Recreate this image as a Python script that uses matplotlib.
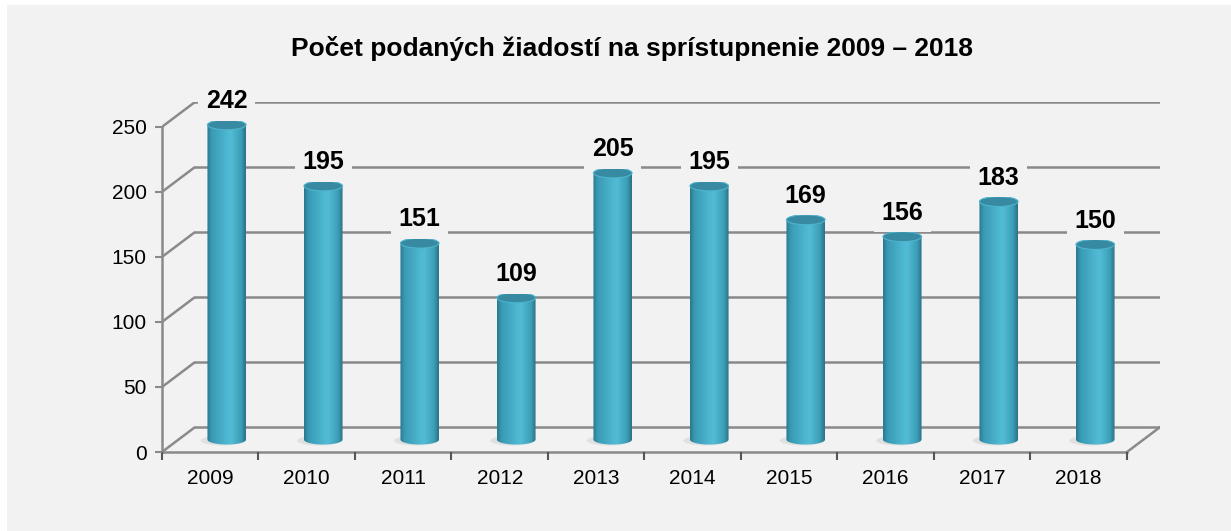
import numpy as np
import matplotlib.pyplot as plt
from matplotlib.patches import Ellipse, Rectangle, PathPatch
from matplotlib.colors import LinearSegmentedColormap
from matplotlib.path import Path

# data
years = ["2009", "2010", "2011", "2012", "2013", "2014", "2015", "2016", "2017", "2018"]
requests = [242, 195, 151, 109, 205, 195, 169, 156, 183, 150]
y_ticks = [0, 50, 100, 150, 200, 250]
title = "Počet podaných žiadostí na sprístupnenie 2009 – 2018"

plt.rcParams['font.family'] = ['Liberation Sans', 'DejaVu Sans']

bg = '#f2f2f2'
grid_col = '#8a8a8a'

fig = plt.figure(figsize=(12.31, 5.31), dpi=100)
fig.patch.set_facecolor('white')
fig.patches.append(Rectangle((7 / 1231, 0), 1, 526 / 531, transform=fig.transFigure,
                             facecolor=bg, edgecolor='none', zorder=-5))

# fake 3d depth (in data units)
depth_x = 0.342
depth_y = 19.1
n = len(years)

ax = fig.add_axes([162 / 1231, 79 / 531, 998 / 1231, 350 / 531])
ax.set_facecolor('none')

# back wall + side wall gridlines
for v in y_ticks:
    ax.plot([-0.5, -0.5 + depth_x], [v, v + depth_y], color=grid_col, lw=1.8, zorder=1,
            solid_capstyle='butt')
    ax.plot([-0.5 + depth_x, n - 0.5 + depth_x], [v + depth_y, v + depth_y],
            color=grid_col, lw=1.8, zorder=1)
# floor right edge
ax.plot([n - 0.5, n - 0.5 + depth_x], [0, depth_y], color=grid_col, lw=1.8, zorder=1)

# cylinder shading
cyl_cmap = LinearSegmentedColormap.from_list(
    'cyl', [(0.0, '#2a778c'), (0.12, '#3a9ab4'), (0.5, '#4db6d0'), (0.62, '#52bcd6'),
            (0.88, '#3c9db6'), (1.0, '#2b6f82')])
grad = np.linspace(0, 1, 256).reshape(1, -1)

bar_w = 0.40
ell_h = 7.6
for i, v in enumerate(requests):
    cx = i + depth_x / 2
    y0 = depth_y / 2
    y1 = v + depth_y / 2
    # soft shadow on the floor
    ax.add_patch(Ellipse((cx - 0.04, y0 - 0.8), bar_w * 1.15, ell_h * 1.0, facecolor='#d0d0d0',
                         edgecolor='none', alpha=0.5, zorder=2))
    t = np.linspace(np.pi, 2 * np.pi, 40)
    xs = [cx - bar_w / 2] + list(cx + bar_w / 2 * np.cos(t)) + [cx + bar_w / 2, cx - bar_w / 2]
    ys = [y1] + list(y0 + ell_h / 2 * np.sin(t)) + [y1, y1]
    body = PathPatch(Path(np.column_stack([xs, ys])), facecolor='none', edgecolor='none')
    ax.add_patch(body)
    im = ax.imshow(grad, extent=[cx - bar_w / 2, cx + bar_w / 2, y0 - ell_h / 2, y1],
                   aspect='auto', cmap=cyl_cmap, interpolation='bicubic', zorder=3)
    im.set_clip_path(body)
    ax.add_patch(Ellipse((cx, y1), bar_w, ell_h, angle=0, facecolor='#378aa1',
                         edgecolor='#4fb4cd', lw=0.8, zorder=4))
    ax.annotate(str(v), (cx, y1), xytext=(0, 8.5), textcoords='offset points',
                ha='center', va='bottom', fontsize=18, fontweight='bold', color='black',
                zorder=5, bbox=dict(boxstyle='square,pad=0.3', facecolor=bg, edgecolor='none'))

ax.set_xlim(-0.5, n - 0.5 + depth_x)
ax.set_ylim(0, y_ticks[-1] + depth_y)

# axes
for s in ['top', 'right']:
    ax.spines[s].set_visible(False)
ax.spines['left'].set_position(('data', -0.5))
ax.spines['left'].set_bounds(0, y_ticks[-1])
ax.spines['bottom'].set_bounds(-0.5, n - 0.5)
for s in ['left', 'bottom']:
    ax.spines[s].set_color(grid_col)
    ax.spines[s].set_linewidth(1.8)
    ax.spines[s].set_zorder(1)

ax.set_yticks(y_ticks)
ax.set_yticklabels([str(v) for v in y_ticks])
ax.set_xticks(range(n))
ax.set_xticklabels(years)
ax.set_xticks(np.arange(-0.5, n, 1), minor=True)
ax.tick_params(axis='y', length=5, width=1.5, color=grid_col, labelsize=15, pad=6)
ax.tick_params(axis='x', which='major', length=0, labelsize=15, pad=12)
ax.tick_params(axis='x', which='minor', length=6, width=1.5, color='#555555')

fig.text(632 / 1231, 1 - 48 / 531, title, ha='center', va='center', fontsize=19,
         fontweight='bold')

fig.savefig('out.png', dpi=100, facecolor=fig.get_facecolor())
